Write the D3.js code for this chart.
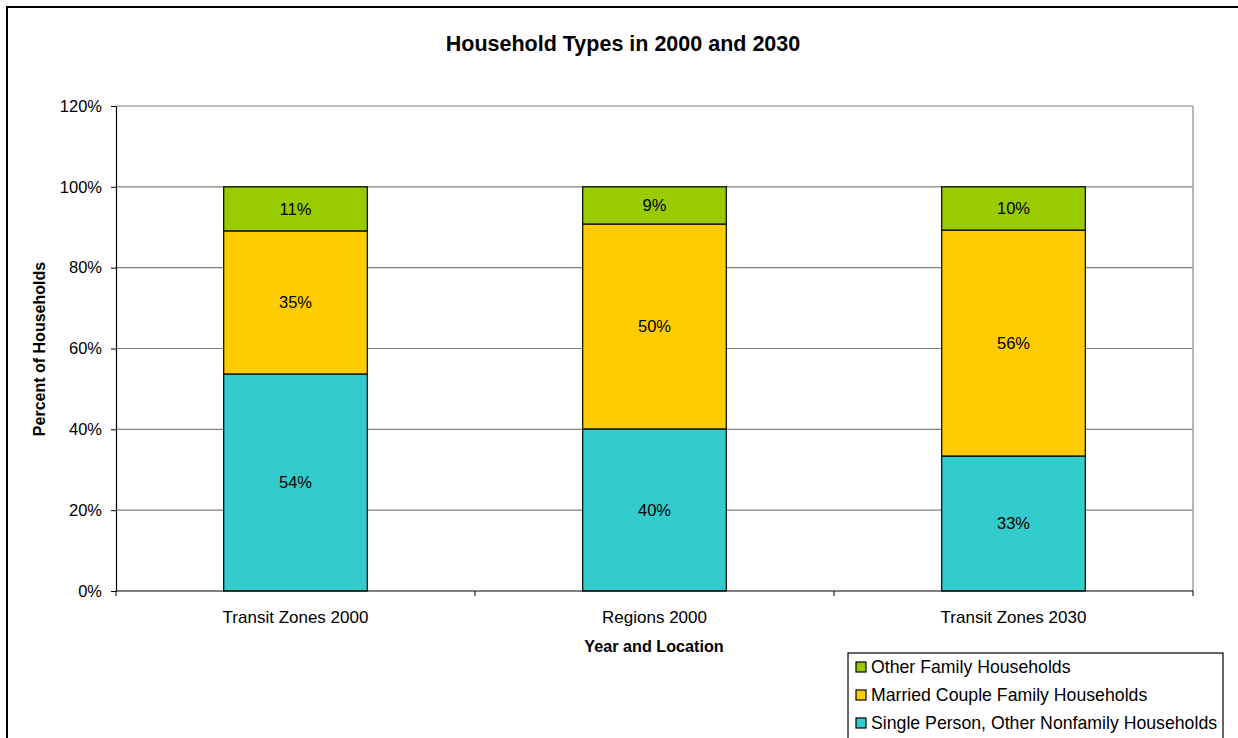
<!DOCTYPE html>
<html><head><meta charset="utf-8">
<script src="https://cdn.jsdelivr.net/npm/d3@7"></script>
<style>body{margin:0;background:#fff;}svg{display:block;font-family:Arial,"Liberation Sans",sans-serif;}</style>
</head><body>
<svg id="c" width="1238" height="738"></svg>
<script>
const categories = ["Transit Zones 2000", "Regions 2000", "Transit Zones 2030"];
const seriesNames = ["Single Person, Other Nonfamily Households", "Married Couple Family Households", "Other Family Households"];
const singleVals = [53.7, 40.1, 33.4];
const marriedVals = [35.4, 50.7, 55.9];
const otherVals = [10.9, 9.2, 10.7];
const singleLabels = ["54%", "40%", "33%"];
const marriedLabels = ["35%", "50%", "56%"];
const otherLabels = ["11%", "9%", "10%"];
const yTicks = [0, 20, 40, 60, 80, 100, 120];
const colors = ["#33CCCC", "#FFCC00", "#99CC00"];

const svg = d3.select("#c");
svg.append("rect").attr("x",7).attr("y",7).attr("width",1240).attr("height",740).attr("fill","none").attr("stroke","#000").attr("stroke-width",2);

const L=116, R=1193, T=106, B=591;
const x = d3.scaleBand().domain(categories).range([L,R]).paddingInner(0.6).paddingOuter(0.3);
const y = d3.scaleLinear().domain([0,120]).range([B,T]);

svg.append("g").selectAll("line").data(yTicks.filter(t=>t>0)).join("line")
  .attr("x1",L).attr("x2",R).attr("y1",d=>y(d)).attr("y2",d=>y(d))
  .attr("stroke","#808080").attr("stroke-width",1.2);
svg.append("line").attr("x1",R).attr("x2",R).attr("y1",T).attr("y2",B).attr("stroke","#a0a0a0").attr("stroke-width",1.5);

const rows = categories.map((c,i)=>({cat:c, s0:singleVals[i], s1:marriedVals[i], s2:otherVals[i]}));
const stack = d3.stack().keys(["s0","s1","s2"])(rows);
const labels = [singleLabels, marriedLabels, otherLabels];

stack.forEach((layer,k)=>{
  const g = svg.append("g");
  g.selectAll("rect").data(layer).join("rect")
    .attr("x",d=>x(d.data.cat)).attr("width",x.bandwidth())
    .attr("y",d=>y(d[1])).attr("height",d=>y(d[0])-y(d[1]))
    .attr("fill",colors[k]).attr("stroke","#000").attr("stroke-width",1.2);
  g.selectAll("text").data(layer).join("text")
    .attr("x",d=>x(d.data.cat)+x.bandwidth()/2).attr("y",d=>(y(d[0])+y(d[1]))/2)
    .attr("dy","0.35em").attr("text-anchor","middle").attr("font-size",16.5).attr("fill","#000")
    .text((d,i)=>labels[k][i]);
});

const yAxis = svg.append("g").attr("transform",`translate(${L},0)`)
  .call(d3.axisLeft(y).tickValues(yTicks).tickSize(5).tickSizeOuter(0).tickFormat(d=>d+"%"));
yAxis.select(".domain").attr("stroke","#000").attr("stroke-width",1.2);
yAxis.selectAll(".tick line").attr("stroke","#000");
yAxis.selectAll(".tick text").attr("font-size",16.5).attr("font-family","Arial").attr("fill","#000").attr("x",-14);

const bw = (R-L)/categories.length;
svg.append("line").attr("x1",L).attr("x2",R).attr("y1",B).attr("y2",B).attr("stroke","#000").attr("stroke-width",1.2);
svg.append("g").selectAll("line").data(d3.range(categories.length+1)).join("line")
  .attr("x1",d=>L+d*bw).attr("x2",d=>L+d*bw).attr("y1",B).attr("y2",B+5).attr("stroke","#000");
svg.append("g").selectAll("text").data(categories).join("text")
  .attr("x",d=>x(d)+x.bandwidth()/2).attr("y",623).attr("text-anchor","middle")
  .attr("font-size",17).text(d=>d);

svg.append("text").attr("x",623).attr("y",51).attr("text-anchor","middle").attr("font-size",21.5).attr("font-weight","bold").text("Household Types in 2000 and 2030");
svg.append("text").attr("x",654).attr("y",652).attr("text-anchor","middle").attr("font-size",16.2).attr("font-weight","bold").text("Year and Location");
svg.append("text").attr("transform","translate(45,349) rotate(-90)").attr("text-anchor","middle").attr("font-size",16).attr("font-weight","bold").text("Percent of Households");

svg.append("rect").attr("x",848).attr("y",653).attr("width",375).attr("height",100).attr("fill","#fff").attr("stroke","#000").attr("stroke-width",1.2);
const legItems = [seriesNames[2], seriesNames[1], seriesNames[0]];
const legColors = [colors[2], colors[1], colors[0]];
const lg = svg.append("g").selectAll("g").data(legItems).join("g")
  .attr("transform",(d,i)=>`translate(856,${667+i*28})`);
lg.append("rect").attr("x",0).attr("y",-5).attr("width",10).attr("height",10)
  .attr("fill",(d,i)=>legColors[i]).attr("stroke","#000").attr("stroke-width",1.2);
lg.append("text").attr("x",15).attr("dy","0.35em").attr("font-size",17.7).text(d=>d);
</script>
</body></html>
